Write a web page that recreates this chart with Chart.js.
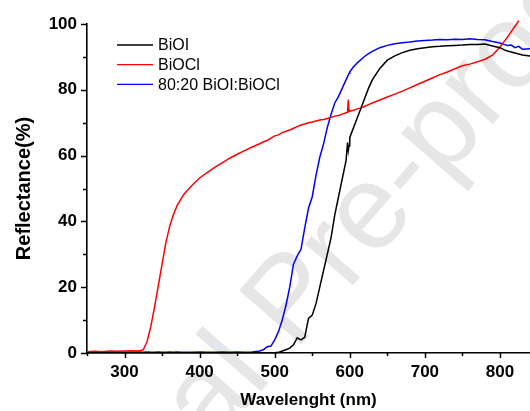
<!DOCTYPE html>
<html>
<head>
<meta charset="utf-8">
<script src="https://cdn.jsdelivr.net/npm/chart.js@4.4.1/dist/chart.umd.min.js"></script>
<style>
  html, body { margin: 0; padding: 0; background: #fff; }
  #chart { display: block; }
</style>
</head>
<body>
<canvas id="chart" width="530" height="411"></canvas>
<script>
// wavelength (nm) – shared x values for the three spectra
const wavelength = [
  250, 260, 270, 280, 290, 300, 310, 320,
  325, 330, 335, 340, 345, 350, 355, 360, 365, 370, 375, 380,
  390, 400, 410, 420, 430, 440, 450, 460, 470, 480,
  485, 490, 495, 500, 505, 510, 515, 520, 525, 530, 535, 540, 545, 550, 555, 560, 565, 570, 575, 580, 585, 590, 595,
  597, 598, 599, 600,
  605, 610, 615, 620, 625, 630,
  640, 650, 660, 670, 680, 690, 700, 710, 720, 730, 740, 750, 760, 770, 780, 790, 800,
  805, 810, 815, 820, 825, 830, 840
];

// reflectance (%)
const bioi = [
  0.1, 0.1, 0.1, 0.1, 0.1, 0.1, 0.1, 0.1,
  0.1, 0.1, 0.1, 0.1, 0.1, 0.1, 0.1, 0.1, 0.1, 0.1, 0.1, 0.1,
  0.1, 0.1, 0.1, 0.1, 0.1, 0.1, 0.1, 0.1, 0.1, 0.1,
  0.1, 0.1, 0.1, 0.1, 0.2, 0.6, 1.0, 1.5, 2.5, 4.6, 4.0, 4.8, 10.5, 11.5, 15, 20, 25, 30, 35, 42, 47.5, 53, 58.5,
  64, 61.5, 63, 65.5,
  68.5, 71.5, 74.5, 77.5, 80.5, 83,
  86.5, 89, 90.3, 91.3, 92, 92.5, 92.8, 93.1, 93.2, 93.4, 93.5, 93.6, 93.8, 93.8, 93.9, 93.3, 92.8,
  92.2, 91.8, 91.5, 91.2, 90.9, 90.6, 90.3
];

const biocl = [
  0.4, 0.5, 0.4, 0.6, 0.5, 0.6, 0.7, 0.6,
  1.0, 3.5, 8, 14, 20.5, 27, 33.5, 38.4, 42, 44.8, 46.8, 48.5,
  51, 53.2, 54.8, 56.4, 57.8, 59.2, 60.4, 61.5, 62.6, 63.6,
  64.2, 64.6, 65.3, 66, 66.3, 67, 67.4, 67.8, 68.3, 68.8, 69.3, 69.6, 70, 70.2, 70.5, 70.8, 71, 71.3, 71.6, 72, 72.2, 72.6, 73,
  73.2, 77, 73.4, 73.5,
  73.8, 74.2, 74.5, 75, 75.5, 76,
  76.9, 77.8, 78.7, 79.6, 80.6, 81.6, 82.6, 83.6, 84.6, 85.4, 86.4, 87.3, 87.8, 88.5, 89.3, 90.5, 93,
  94.5, 96, 97.7, 99.3, 101, null, null
];

const mix = [
  0.2, 0.3, 0.2, 0.2, 0.3, 0.2, 0.2, 0.3,
  0.2, 0.3, 0.2, 0.2, 0.3, 0.2, 0.2, 0.3, 0.2, 0.3, 0.2, 0.2,
  0.2, 0.3, 0.2, 0.2, 0.3, 0.2, 0.3, 0.2, 0.3, 0.6,
  1.0, 1.9, 2.1, 4, 6.5, 10, 14.5, 20, 27, 29.5, 31.5, 38, 44, 47.5, 54, 59.5, 63.5, 68.5, 72.5, 76, 78, 80.5, 83,
  84, 84.5, 85, 85.5,
  87, 88.2, 89.2, 90.2, 91, 91.7,
  92.8, 93.5, 94, 94.3, 94.5, 94.8, 95, 95.1, 95.3, 95.2, 95.4, 95.3, 95.5, 95.3, 95.2, 94.7, 94.2,
  93.8, 93.5, 93.6, 92.8, 93.2, 92.3, 92.5
];

const seriesNames = ["BiOI", "BiOCl", "80:20 BiOI:BiOCl"];
const seriesColors = ["#000000", "#ff0000", "#0000ff"];
const xTicks = [300, 400, 500, 600, 700, 800];
const yTicks = [0, 20, 40, 60, 80, 100];

const FONT = "'Liberation Sans', Arial, sans-serif";

const toPoints = (vals) => wavelength.map((x, i) => ({ x, y: vals[i] }));

// faint diagonal watermark behind everything
const watermark = {
  id: "watermark",
  beforeDraw(chart) {
    const ctx = chart.ctx;
    ctx.save();
    ctx.fillStyle = "#e6e6e6";
    ctx.font = "120px " + FONT;
    ctx.textBaseline = "alphabetic";
    ctx.translate(295, 352);
    ctx.rotate((-49 * Math.PI) / 180);
    ctx.textAlign = "right";
    ctx.fillText("Journal ", 0, 0);
    ctx.textAlign = "left";
    ctx.fillText("Pre-proof", 0, 0);
    ctx.restore();
  },
};

// outward major/minor tick marks
const tickMarks = {
  id: "tickMarks",
  afterDraw(chart) {
    const { ctx, chartArea, scales } = chart;
    ctx.save();
    ctx.strokeStyle = "#000";
    ctx.lineWidth = 1.5;
    ctx.beginPath();
    for (let v = 250; v <= 840; v += 50) {
      const px = Math.round(scales.x.getPixelForValue(v)) + 0.5;
      const len = v % 100 === 0 ? 5 : 3;
      ctx.moveTo(px, chartArea.bottom);
      ctx.lineTo(px, chartArea.bottom + len);
    }
    for (let v = 0; v <= 100; v += 10) {
      const py = Math.round(scales.y.getPixelForValue(v)) + 0.5;
      const len = v % 20 === 0 ? 6 : 4;
      ctx.moveTo(chartArea.left, py);
      ctx.lineTo(chartArea.left - len, py);
    }
    ctx.stroke();
    ctx.restore();
  },
};

// legend in the upper left of the plot
const insideLegend = {
  id: "insideLegend",
  afterDraw(chart) {
    const ctx = chart.ctx;
    ctx.save();
    ctx.font = "16px " + FONT;
    ctx.textBaseline = "middle";
    ctx.textAlign = "left";
    seriesNames.forEach((name, i) => {
      const y = 45 + i * 19.7;
      ctx.strokeStyle = seriesColors[i];
      ctx.lineWidth = 1.3;
      ctx.beginPath();
      ctx.moveTo(117, y);
      ctx.lineTo(153, y);
      ctx.stroke();
      ctx.fillStyle = "#000";
      ctx.fillText(name, 158, y + 1);
    });
    ctx.restore();
  },
};

const tickFont = { family: FONT, size: 17, weight: "bold" };

new Chart(document.getElementById("chart"), {
  type: "scatter",
  data: {
    datasets: [bioi, biocl, mix].map((vals, i) => ({
      label: seriesNames[i],
      data: toPoints(vals),
      showLine: true,
      borderColor: seriesColors[i],
      borderWidth: 1.5,
      pointRadius: 0,
      pointHoverRadius: 0,
      tension: 0,
      clip: i === 1 ? false : 2,
    })),
  },
  options: {
    responsive: false,
    animation: false,
    layout: { padding: { top: 24, right: 0, left: 0, bottom: 0 } },
    plugins: {
      legend: { display: false },
      tooltip: { enabled: false },
    },
    scales: {
      x: {
        type: "linear",
        min: 250,
        max: 840,
        afterBuildTicks: (s) => { s.ticks = xTicks.map((value) => ({ value })); },
        afterFit: (s) => { s.height = 58; },
        grid: { display: true, drawOnChartArea: false, drawTicks: false },
        border: { display: true, color: "#000", width: 1.6 },
        ticks: { color: "#000", font: tickFont, padding: 9, maxRotation: 0, autoSkip: false },
        title: {
          display: true,
          text: "Wavelenght (nm)",
          color: "#000",
          font: { family: FONT, size: 17, weight: "bold" },
          padding: { top: 0, bottom: 0 },
        },
      },
      y: {
        min: 0,
        max: 100,
        afterBuildTicks: (s) => { s.ticks = yTicks.map((value) => ({ value })); },
        afterFit: (s) => { s.width = 87; },
        grid: { display: true, drawOnChartArea: false, drawTicks: false },
        border: { display: true, color: "#000", width: 1.6 },
        ticks: { color: "#000", font: tickFont, padding: 10 },
        title: {
          display: true,
          text: "Reflectance(%)",
          color: "#000",
          font: { family: FONT, size: 20, weight: "bold" },
          padding: { top: 12, bottom: 0 },
        },
      },
    },
  },
  plugins: [watermark, tickMarks, insideLegend],
});
</script>
</body>
</html>
